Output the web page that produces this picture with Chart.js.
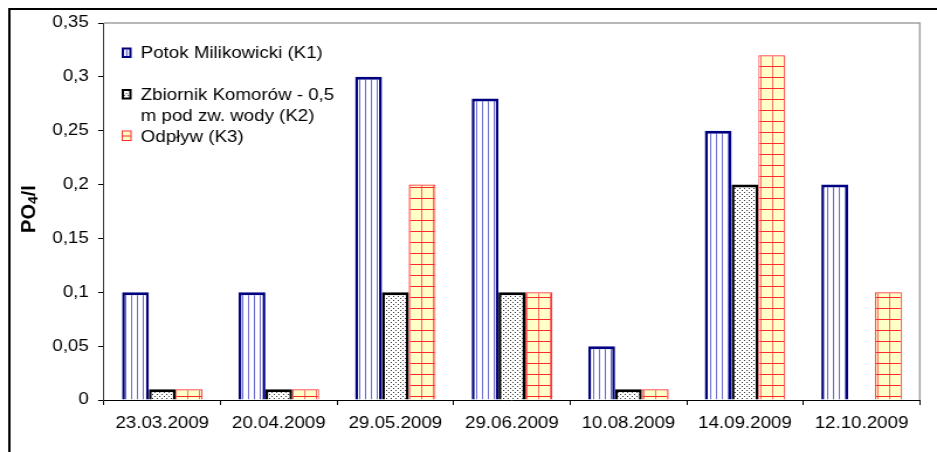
<!DOCTYPE html>
<html>
<head>
<meta charset="utf-8">
<script src="https://cdn.jsdelivr.net/npm/chart.js@4/dist/chart.umd.min.js"></script>
<style>
  html, body { margin: 0; padding: 0; background: #fff; overflow: hidden; }
  #c { display: block; transform: scaleX(1.1698); transform-origin: 0 0; }
</style>
</head>
<body>
<canvas id="c" width="801" height="452"></canvas>
<script>
const DATES = ["23.03.2009", "20.04.2009", "29.05.2009", "29.06.2009", "10.08.2009", "14.09.2009", "12.10.2009"];
const K1 = [0.1, 0.1, 0.3, 0.28, 0.05, 0.25, 0.2];
const K2 = [0.01, 0.01, 0.1, 0.1, 0.01, 0.2, null];
const K3 = [0.01, 0.01, 0.2, 0.1, 0.01, 0.32, 0.1];
const SERIES = ["Potok Milikowicki (K1)", "Zbiornik Komorów - 0,5\nm pod zw. wody (K2)", "Odpływ (K3)"];
const Y_MAX = 0.35, Y_STEP = 0.05;

const FONT = "'Liberation Sans', Arial, sans-serif";
const NAVY = "#000080", RED = "#ff2a2a";

const canvas = document.getElementById("c");
const main = canvas.getContext("2d");

// fill patterns like the old excel ones
function pattern(w, h, draw) {
  const c = document.createElement("canvas");
  c.width = w; c.height = h;
  draw(c.getContext("2d"));
  return main.createPattern(c, "repeat");
}
const STRIPES = pattern(5, 1, g => {
  g.fillStyle = "#fff"; g.fillRect(0, 0, 5, 1);
  g.fillStyle = "#6b6bd0"; g.fillRect(2, 0, 1, 1);
});
const DOTS = pattern(4, 4, g => {
  g.fillStyle = "#fff"; g.fillRect(0, 0, 4, 4);
  g.fillStyle = "#333"; g.fillRect(0, 0, 1, 1); g.fillRect(2, 2, 1, 1);
});
const GRIDFILL = pattern(10, 11, g => {
  g.fillStyle = "#ffffc8"; g.fillRect(0, 0, 10, 11);
  g.fillStyle = "#ff6a6a"; g.fillRect(0, 0, 1, 11);
  g.fillStyle = RED; g.fillRect(0, 0, 10, 1);
});

const STYLES = [
  {fill: STRIPES, border: NAVY, bw: {top: 3, left: 2.5, right: 2.5}},
  {fill: DOTS, border: "#000", bw: {top: 3, left: 2.5, right: 2.5}},
  {fill: GRIDFILL, border: RED, bw: {top: 1.2, left: 1, right: 1}},
];

const decor = {
  id: "decor",
  beforeDraw(chart) {
    const ctx = chart.ctx;
    ctx.save();
    ctx.strokeStyle = "#000";
    ctx.lineWidth = 2;
    ctx.beginPath();
    ctx.moveTo(8, 452); ctx.lineTo(8, 9); ctx.lineTo(801, 9);
    ctx.stroke();
    ctx.restore();
  },
  beforeDatasetsDraw(chart) {
    const {ctx, chartArea: a} = chart;
    ctx.save();
    ctx.strokeStyle = "#a0a0a0";
    ctx.lineWidth = 1.5;
    ctx.beginPath();
    ctx.moveTo(a.left, a.top); ctx.lineTo(a.right, a.top); ctx.lineTo(a.right, a.bottom);
    ctx.stroke();
    ctx.restore();
  },
  afterDraw(chart) {
    const ctx = chart.ctx;
    ctx.save();
    // legend
    const rows = [[47.5, 58], [89, 100], [130.5, 141.5]];
    ctx.font = "16px " + FONT;
    ctx.fillStyle = "#000";
    ctx.textBaseline = "alphabetic";
    SERIES.forEach((name, i) => {
      const [sy, base] = rows[i];
      const st = STYLES[i];
      ctx.fillStyle = st.border;
      ctx.fillRect(104, sy, 8.5, 10.5);
      ctx.fillStyle = i == 2 ? "#ffffc8" : "#fff";
      const b = i == 2 ? 1 : 2;
      ctx.fillRect(104 + b, sy + b, 8.5 - 2 * b, 10.5 - 2 * b);
      ctx.fillStyle = i == 0 ? "#4a4ac0" : i == 1 ? "#555" : RED;
      if (i == 0) ctx.fillRect(107.8, sy + 2, 1, 6.5);
      if (i == 1) { ctx.fillRect(107.5, sy + 4, 1.2, 1.2); ctx.fillRect(106, sy + 6, 1, 1); ctx.fillRect(109, sy + 6, 1, 1); }
      if (i == 2) ctx.fillRect(105, sy + 5, 6.5, 1);
      ctx.fillStyle = "#000";
      name.split("\n").forEach((line, k) => ctx.fillText(line, 120.3, base + k * 20.5));
    });
    // y title with subscript
    ctx.translate(25.6, 209);
    ctx.rotate(-Math.PI / 2);
    ctx.scale(1, 0.82);
    ctx.textBaseline = "middle";
    ctx.font = "bold 20px " + FONT;
    const w1 = ctx.measureText("PO").width;
    ctx.font = "bold 14px " + FONT;
    const w2 = ctx.measureText("4").width;
    ctx.font = "bold 20px " + FONT;
    const w3 = ctx.measureText("/l").width;
    let x = -(w1 + w2 + w3) / 2;
    ctx.textAlign = "left";
    ctx.fillText("PO", x, 0); x += w1;
    ctx.font = "bold 14px " + FONT;
    ctx.fillText("4", x, 4); x += w2;
    ctx.font = "bold 20px " + FONT;
    ctx.fillText("/l", x, 0);
    ctx.restore();
  }
};

new Chart(canvas, {
  type: "bar",
  data: {
    labels: DATES,
    datasets: [K1, K2, K3].map((d, i) => ({
      label: SERIES[i],
      data: d,
      backgroundColor: STYLES[i].fill,
      borderColor: STYLES[i].border,
      borderWidth: STYLES[i].bw,
      categoryPercentage: 0.69,
      barPercentage: 1,
    })),
  },
  options: {
    responsive: false,
    animation: false,
    devicePixelRatio: 1,
    layout: {padding: {top: 23, right: 14.7, left: 0, bottom: 0}},
    plugins: {legend: {display: false}, tooltip: {enabled: false}},
    scales: {
      x: {
        grid: {drawOnChartArea: false, tickLength: 5, color: "#000", offset: true},
        border: {color: "#000", width: 1},
        ticks: {color: "#000", font: {family: FONT, size: 16}, padding: 9, maxRotation: 0, autoSkip: false},
        afterFit(s) { s.height = 52; },
      },
      y: {
        min: 0,
        max: Y_MAX,
        grid: {drawOnChartArea: false, tickLength: 5, color: "#000"},
        border: {color: "#333", width: 1},
        ticks: {
          stepSize: Y_STEP,
          color: "#000",
          font: {family: FONT, size: 16},
          padding: 8,
          callback: v => String(Number(v.toFixed(2))).replace(".", ","),
        },
        afterFit(s) { s.width = 88.9; },
      },
    },
  },
  plugins: [decor],
});
</script>
</body>
</html>
